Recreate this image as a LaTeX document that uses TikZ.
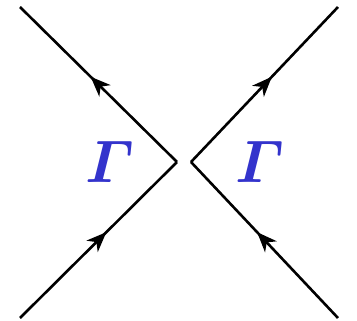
\documentclass[tikz,border=0pt]{standalone}
\usepackage{graphicx}
\usepackage{amsmath,bm}
\usetikzlibrary{arrows.meta,decorations.markings}
\definecolor{gblue}{RGB}{51,51,204}
\tikzset{
  line/.style={line width=2.6pt,
    postaction={decorate},
    decoration={markings, mark=at position 0.55 with {\arrow{Stealth[length=20pt,width=16pt,inset=6pt]}}}},
  glabel/.style={text=gblue, inner sep=0pt}
}
\newcommand{\bigG}{\scalebox{6}{$\boldsymbol{\varGamma}$}}
\begin{document}
\begin{tikzpicture}[x=1pt,y=-1pt]
\useasboundingbox (0,0) rectangle (357,321);
\coordinate (lt) at (20,7);
\coordinate (lb) at (20,318);
\coordinate (lv) at (177,162);
\coordinate (rt) at (338,7);
\coordinate (rb) at (338,318);
\coordinate (rv) at (191,162);
\draw[line] (lv) -- (lt);
\draw[line] (lb) -- (lv);
\draw[line] (rv) -- (rt);
\draw[line] (rb) -- (rv);
\node[glabel] (g1) at (110,162) {\bigG};
\node[glabel] (g2) at (260,162) {\bigG};
\end{tikzpicture}
\end{document}
